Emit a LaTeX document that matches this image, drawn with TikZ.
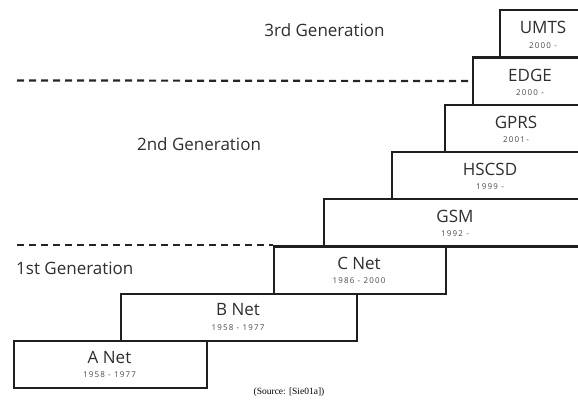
\documentclass[tikz,border=0pt]{standalone}
\usepackage{fontspec}
\setmainfont{Open Sans}
\newfontfamily\yearfont[LetterSpace=15]{Open Sans}
\newfontfamily\srcfont{Liberation Serif}
\begin{document}
\begin{tikzpicture}[x=1pt,y=-1pt,
  netbox/.style={draw=black!88, line width=2.4pt, rectangle, inner sep=0pt, anchor=north west},
  netname/.style={text=black!82, font=\fontsize{17}{18}\selectfont, inner sep=0pt},
  netyear/.style={text=black!72, font=\yearfont\fontsize{8}{9}\selectfont, inner sep=0pt},
  genlabel/.style={text=black!82, font=\fontsize{17}{18}\selectfont, inner sep=0pt},
  genline/.style={draw=black!85, line width=2.2pt, dash pattern=on 7pt off 5pt}]
\useasboundingbox (0,0) rectangle (578,408);
\clip (0,0) rectangle (578,408);

% stair of systems, each box given by its top-left corner and its size
\node[netbox, minimum width=117pt, minimum height=47.25pt] (umts) at (499,9) {};
\node[netbox, minimum width=144pt, minimum height=47.25pt] (edge) at (472,56.25) {};
\node[netbox, minimum width=172pt, minimum height=47.25pt] (gprs) at (444,103.5) {};
\node[netbox, minimum width=225pt, minimum height=47.25pt] (hscsd) at (391,150.75) {};
\node[netbox, minimum width=293pt, minimum height=47.25pt] (gsm) at (323,198) {};
\node[netbox, minimum width=172pt, minimum height=47.25pt] (cnet) at (273,245.25) {};
\node[netbox, minimum width=236pt, minimum height=47.25pt] (bnet) at (120,292.5) {};
\node[netbox, minimum width=193pt, minimum height=47.25pt] (anet) at (13,339.75) {};

% system names and years of service
\node[netname] (umtsN) at (543,27.5) {UMTS};
\node[netyear] (umtsY) at (543,45.5) {2000 -};
\node[netname] (edgeN) at (530,75) {EDGE};
\node[netyear] (edgeY) at (530,93) {2000 -};
\node[netname] (gprsN) at (516,122) {GPRS};
\node[netyear] (gprsY) at (516,140) {2001-};
\node[netname] (hscsdN) at (490,169) {HSCSD};
\node[netyear] (hscsdY) at (490,187) {1999 -};
\node[netname] (gsmN) at (455,216) {GSM};
\node[netyear] (gsmY) at (455,234) {1992 -};
\node[netname] (cnetN) at (359,263) {C Net};
\node[netyear] (cnetY) at (359,281) {1986 - 2000};
\node[netname] (bnetN) at (238,310) {B Net};
\node[netyear] (bnetY) at (238,328) {1958 - 1977};
\node[netname] (anetN) at (109.5,357) {A Net};
\node[netyear] (anetY) at (109.5,375) {1958 - 1977};

% generation boundaries
\coordinate (g3start) at (17,80.4);
\coordinate (g2start) at (17,245.25);
\draw[genline] (g3start) -- (edge.west);
\draw[genline] (g2start) -- (cnet.north west);

\node[genlabel] (gen3) at (324.5,30) {3rd Generation};
\node[genlabel] (gen2) at (199,144) {2nd Generation};
\node[genlabel, anchor=west] (gen1) at (16,268) {1st Generation};

\node[font=\srcfont\fontsize{9.5}{10}\selectfont, inner sep=0pt] (src) at (289,392) {(Source: [Sie01a])};
\end{tikzpicture}
\end{document}
